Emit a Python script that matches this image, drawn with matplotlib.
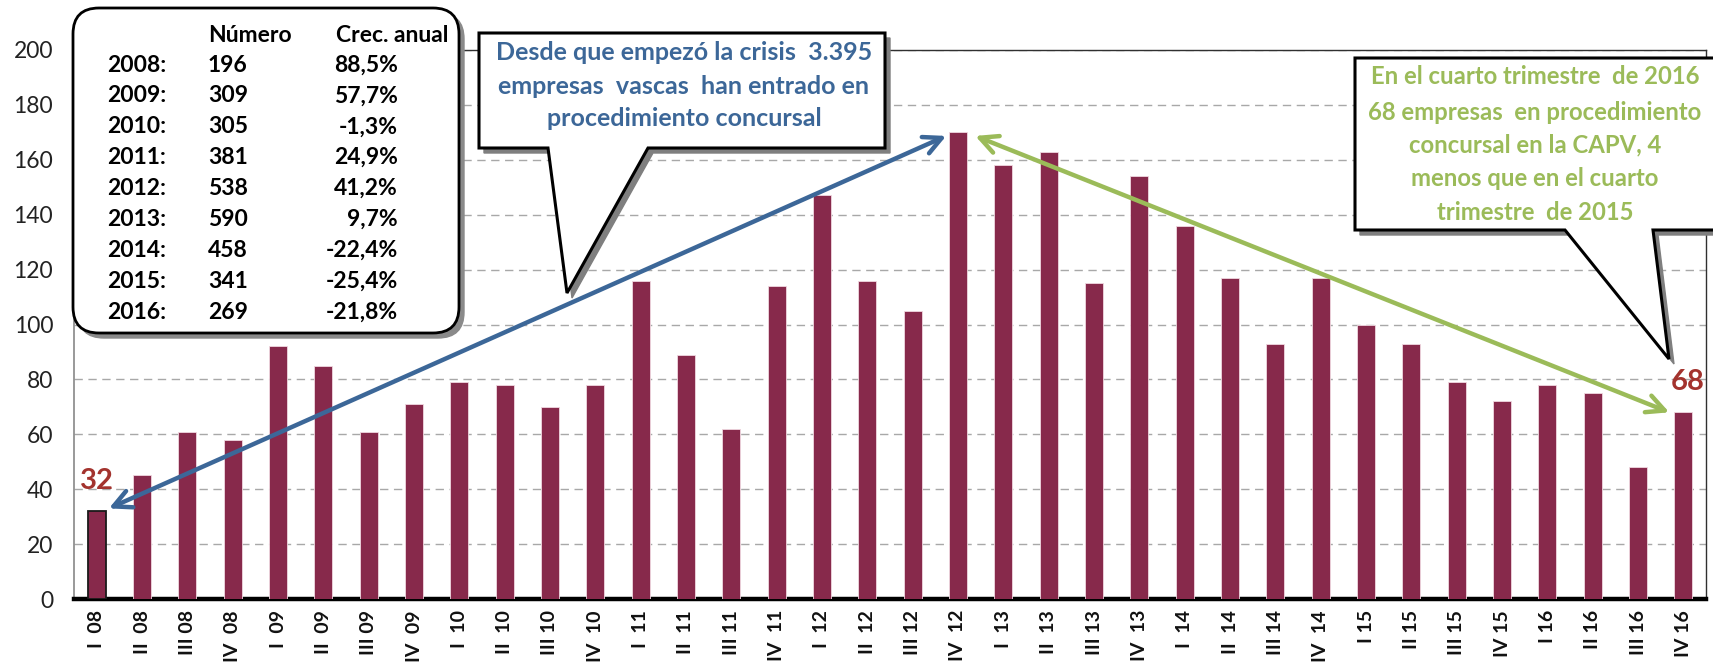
import matplotlib
matplotlib.use("Agg")
import matplotlib.pyplot as plt
from matplotlib.patches import Polygon, FancyBboxPatch

# ---------------- data ----------------
quarters = ["I  08", "II  08", "III 08", "IV  08",
            "I  09", "II  09", "III 09", "IV  09",
            "I  10", "II  10", "III 10", "IV  10",
            "I  11", "II  11", "III 11", "IV  11",
            "I  12", "II  12", "III 12", "IV  12",
            "I  13", "II  13", "III 13", "IV  13",
            "I  14", "II  14", "III 14", "IV  14",
            "I 15", "II 15", "III 15", "IV 15",
            "I 16", "II 16", "III 16", "IV 16"]
empresas = [32, 45, 61, 58,
            92, 85, 61, 71,
            79, 78, 70, 78,
            116, 89, 62, 114,
            147, 116, 105, 170,
            158, 163, 115, 154,
            136, 117, 93, 117,
            100, 93, 79, 72,
            78, 75, 48, 68]
years = ["2008:", "2009:", "2010:", "2011:", "2012:", "2013:", "2014:", "2015:", "2016:"]
numero = ["196", "309", "305", "381", "538", "590", "458", "341", "269"]
crec = ["88,5%", "57,7%", "-1,3%", "24,9%", "41,2%", "9,7%", "-22,4%", "-25,4%", "-21,8%"]
yticks = [0, 20, 40, 60, 80, 100, 120, 140, 160, 180, 200]

blue_text = ["Desde que empezó la crisis  3.395",
             "empresas  vascas  han entrado en",
             "procedimiento concursal"]
green_text = ["En el cuarto trimestre  de 2016",
              "68 empresas  en procedimiento",
              "concursal en la CAPV, 4",
              "menos que en el cuarto",
              "trimestre  de 2015"]

# ---------------- style ----------------
W, H = 1713, 662
BAR = "#87294B"
BLUE = "#3C6798"
GREEN = "#9BBB59"
RED = "#A3332E"
NARROW = ["Lato", "DejaVu Sans"]
TICKF = ["Lato", "DejaVu Sans"]

fig = plt.figure(figsize=(W / 100, H / 100), dpi=100)
fig.patch.set_facecolor("white")
ax = fig.add_axes([74 / W, 1 - 599 / H, (1706 - 74) / W, (599 - 50) / H])

x = list(range(len(empresas)))
edgecolors = ["#1a1a1a"] + ["#f0d8e0"] * (len(empresas) - 1)
lws = [1.3] + [0.6] * (len(empresas) - 1)
ax.bar(x, empresas, width=0.4, color=BAR, edgecolor=edgecolors, linewidth=lws, zorder=3)

ax.set_xlim(-0.5, len(empresas) - 0.5)
ax.set_ylim(0, 200)
ax.set_yticks(yticks)
ax.set_yticklabels([str(v) for v in yticks], fontfamily=TICKF, fontsize=16.5, color="#222222")
ax.set_xticks(x)
ax.set_xticklabels(quarters, rotation=90, fontfamily=TICKF, fontsize=14,
                   fontweight="bold", color="#111111")
ax.tick_params(axis="y", length=0, pad=15)
ax.tick_params(axis="x", length=0, pad=8)

ax.yaxis.grid(True, linestyle=(0, (6, 4)), color="#A8A8A8", linewidth=1.0, zorder=0)
ax.set_axisbelow(True)
for side in ["top", "right"]:
    ax.spines[side].set_color("#303030")
    ax.spines[side].set_linewidth(1.0)
ax.spines["left"].set_color("#888888")
ax.spines["left"].set_linewidth(1.2)
ax.spines["bottom"].set_color("black")
ax.spines["bottom"].set_linewidth(3.2)

# arrows
ax.annotate("", xy=(0.27, 33), xytext=(18.74, 168.7),
            arrowprops=dict(arrowstyle="<->", color=BLUE, lw=3.2, mutation_scale=32,
                            shrinkA=0, shrinkB=0), zorder=6)
ax.annotate("", xy=(34.69, 68), xytext=(19.38, 168.7),
            arrowprops=dict(arrowstyle="<->", color=GREEN, lw=3.2, mutation_scale=32,
                            shrinkA=0, shrinkB=0), zorder=6)

# value labels
ax.text(0, empresas[0] + 11, str(empresas[0]), ha="center", va="center",
        fontfamily=TICKF, fontsize=21, fontweight="bold", color=RED, zorder=7)
ax.text(len(empresas) - 1 + 0.1, empresas[-1] + 11, str(empresas[-1]), ha="center", va="center",
        fontfamily=TICKF, fontsize=21, fontweight="bold", color=RED, zorder=7)

# ---------------- overlay (pixel coords) ----------------
ov = fig.add_axes([0, 0, 1, 1], zorder=5)
ov.set_xlim(0, W)
ov.set_ylim(H, 0)
ov.axis("off")
ov.patch.set_alpha(0)

def callout(pts, dx=5, dy=5):
    sh = [(px + dx, py + dy) for px, py in pts]
    ov.add_patch(Polygon(sh, closed=True, facecolor="#7f7f7f", edgecolor="#7f7f7f", lw=1, zorder=1))
    ov.add_patch(Polygon(pts, closed=True, facecolor="white", edgecolor="black", lw=2.2,
                         joinstyle="miter", zorder=2))

# table box
ov.add_patch(FancyBboxPatch((78, 13), 386, 325, boxstyle="round,pad=0,rounding_size=26",
                            facecolor="#8a8a8a", edgecolor="#8a8a8a", lw=1, zorder=1))
ov.add_patch(FancyBboxPatch((73, 8), 386, 325, boxstyle="round,pad=0,rounding_size=26",
                            facecolor="white", edgecolor="black", lw=2.0, zorder=2))
tk = dict(fontfamily=NARROW, fontsize=16.5, fontweight="bold", color="black", va="center", zorder=3)
ov.text(208, 35, "Número", ha="left", **tk)
ov.text(448, 35, "Crec. anual", ha="right", **tk)
for i, (yy, nn, cc) in enumerate(zip(years, numero, crec)):
    yc = 65 + i * 30.9
    ov.text(107, yc, yy, ha="left", **tk)
    ov.text(208, yc, nn, ha="left", **tk)
    ov.text(398, yc, cc, ha="right", **tk)

# blue callout
callout([(479, 33), (885, 33), (885, 148), (648, 148), (567, 293), (548, 148), (479, 148)])
for i, line in enumerate(blue_text):
    ov.text(684, [52, 87, 119][i], line, ha="center", va="center", fontfamily=NARROW,
            fontsize=18, fontweight="bold", color=BLUE, zorder=3)

# green callout
callout([(1355, 58), (1730, 58), (1730, 230), (1653, 230), (1669, 359), (1565, 230), (1355, 230)])
for i, line in enumerate(green_text):
    ov.text(1535, [77, 112, 145, 178, 212][i], line, ha="center", va="center", fontfamily=NARROW,
            fontsize=17.2, fontweight="bold", color=GREEN, zorder=3)

fig.savefig("out.png", dpi=100, facecolor="white")
